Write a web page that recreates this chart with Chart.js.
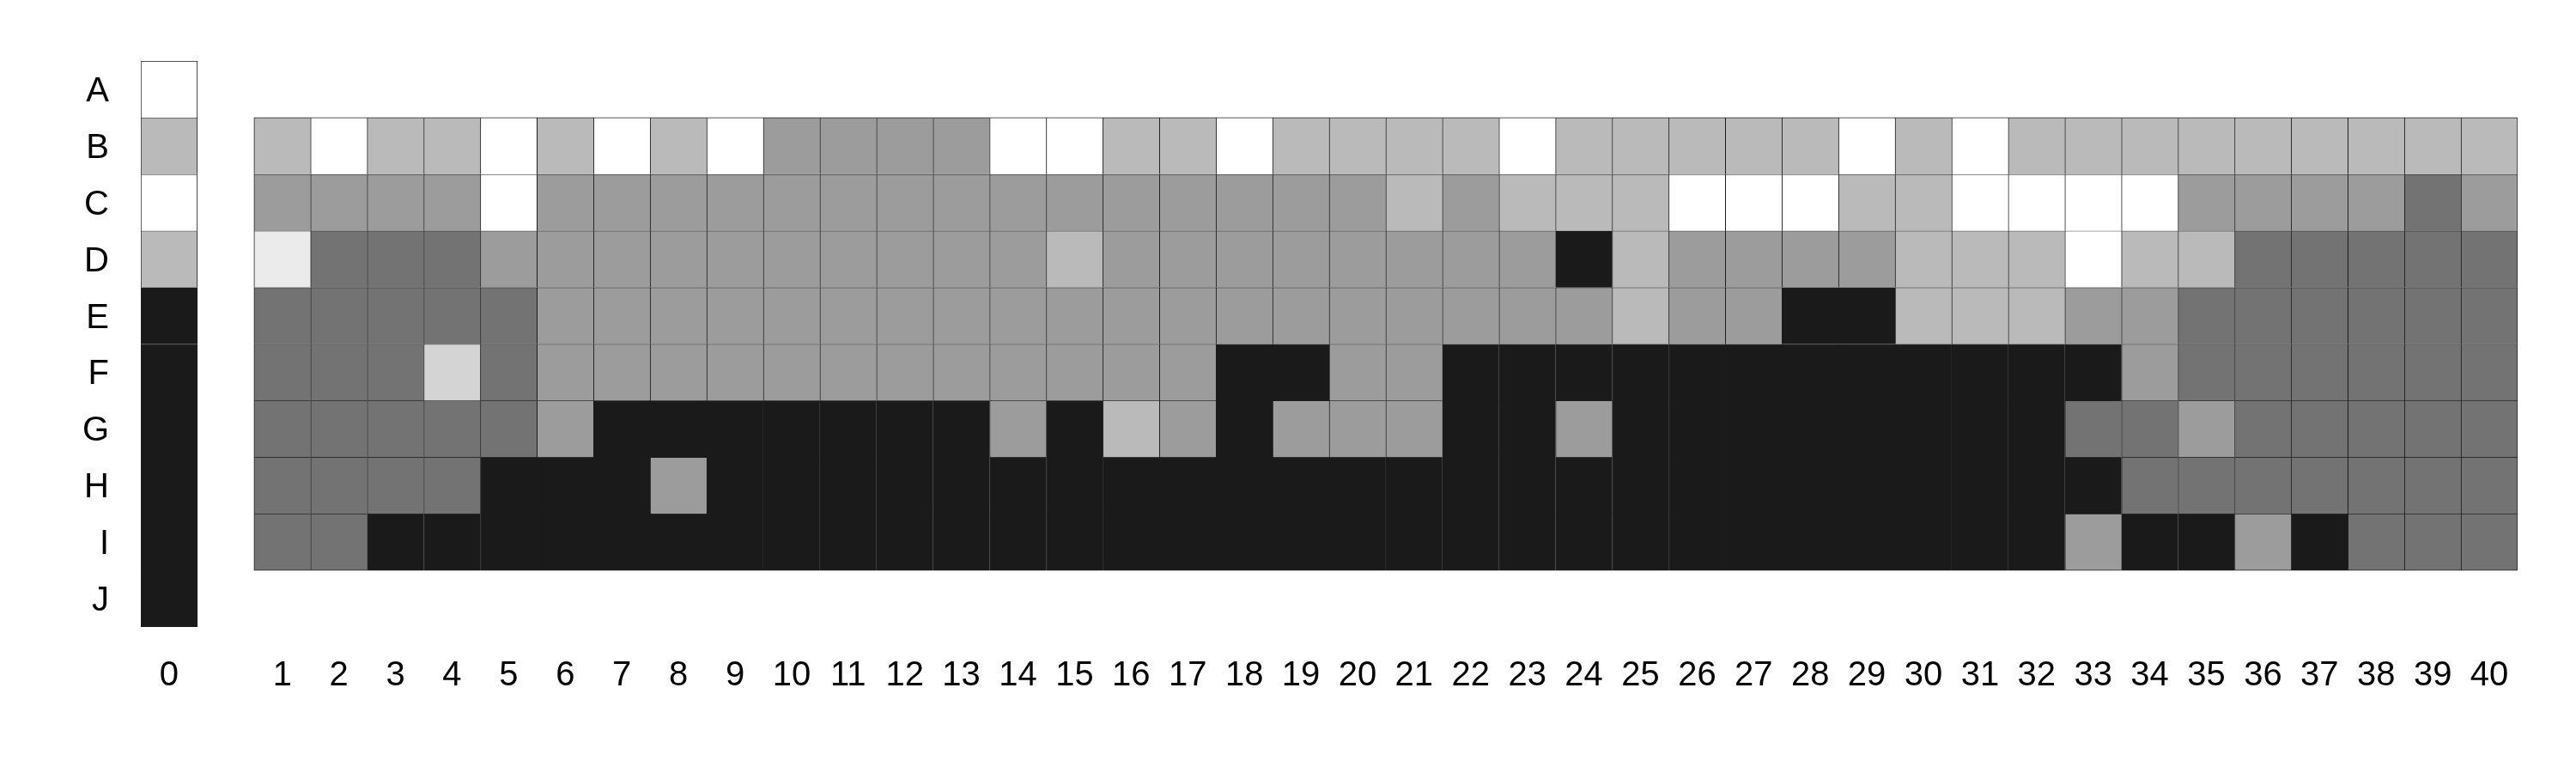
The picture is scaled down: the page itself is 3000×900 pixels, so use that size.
<!DOCTYPE html>
<html>
<head>
<meta charset="utf-8">
<script src="https://cdn.jsdelivr.net/npm/chart.js@4/dist/chart.umd.min.js"></script>
<style>
  html, body { margin: 0; padding: 0; background: #fff; }
  #wrap { width: 3000px; height: 900px; position: relative; }
</style>
</head>
<body>
<div id="wrap"><canvas id="grid"></canvas></div>
<script>
// tick labels
const rowLabels = ['A', 'B', 'C', 'D', 'E', 'F', 'G', 'H', 'I', 'J'];
const colLabels = ['0', '', '1', '2', '3', '4', '5', '6', '7', '8', '9', '10',
  '11', '12', '13', '14', '15', '16', '17', '18', '19', '20',
  '21', '22', '23', '24', '25', '26', '27', '28', '29', '30',
  '31', '32', '33', '34', '35', '36', '37', '38', '39', '40'];

// grey levels: 0 white ... 6 near black
const shades = ['#ffffff', '#ebebeb', '#d4d4d4', '#bababa', '#9c9c9c', '#737373', '#1a1a1a'];

// column 0, rows A..J
const col0 = [0, 3, 0, 3, 6, 6, 6, 6, 6, 6];

// columns 1..40, rows B..I
const rowB = [3,0,3,3,0,3,0,3,0,4, 4,4,4,0,0,3,3,0,3,3, 3,3,0,3,3,3,3,3,0,3, 0,3,3,3,3,3,3,3,3,3];
const rowC = [4,4,4,4,0,4,4,4,4,4, 4,4,4,4,4,4,4,4,4,4, 3,4,3,3,3,0,0,0,3,3, 0,0,0,0,4,4,4,4,5,4];
const rowD = [1,5,5,5,4,4,4,4,4,4, 4,4,4,4,3,4,4,4,4,4, 4,4,4,6,3,4,4,4,4,3, 3,3,0,3,3,5,5,5,5,5];
const rowE = [5,5,5,5,5,4,4,4,4,4, 4,4,4,4,4,4,4,4,4,4, 4,4,4,4,3,4,4,6,6,3, 3,3,4,4,5,5,5,5,5,5];
const rowF = [5,5,5,2,5,4,4,4,4,4, 4,4,4,4,4,4,4,6,6,4, 4,6,6,6,6,6,6,6,6,6, 6,6,6,4,5,5,5,5,5,5];
const rowG = [5,5,5,5,5,4,6,6,6,6, 6,6,6,4,6,3,4,6,4,4, 4,6,6,4,6,6,6,6,6,6, 6,6,5,5,4,5,5,5,5,5];
const rowH = [5,5,5,5,6,6,6,4,6,6, 6,6,6,6,6,6,6,6,6,6, 6,6,6,6,6,6,6,6,6,6, 6,6,6,5,5,5,5,5,5,5];
const rowI = [5,5,6,6,6,6,6,6,6,6, 6,6,6,6,6,6,6,6,6,6, 6,6,6,6,6,6,6,6,6,6, 6,6,4,6,6,4,6,5,5,5];

const mainRows = { B: rowB, C: rowC, D: rowD, E: rowE, F: rowF, G: rowG, H: rowH, I: rowI };

function buildDatasets() {
  return rowLabels.map((lab, r) => {
    const data = [];
    const colors = [];
    colLabels.forEach((c, i) => {
      let level = null;
      if (i === 0) level = col0[r];
      else if (i > 1 && mainRows[lab]) level = mainRows[lab][i - 2];
      data.push(level === null ? null : [r, r + 1]);
      colors.push(level === null ? 'rgba(0,0,0,0)' : shades[level]);
    });
    return {
      label: lab,
      data,
      backgroundColor: colors,
      borderColor: '#1c1c1c',
      borderSkipped: false,
      borderWidth: ctx => {
        const i = ctx.dataIndex;
        const lastRow = i === 0 ? r === 9 : r === 8;
        const lastCol = i === 0 || i === colLabels.length - 1;
        return { top: 1, left: 1, right: lastCol ? 1 : 0, bottom: lastRow ? 1 : 0 };
      }
    };
  });
}

const labelFont = { family: '"Liberation Sans", Arial, sans-serif', size: 40 };

new Chart(document.getElementById('grid'), {
  type: 'bar',
  data: { labels: colLabels, datasets: buildDatasets() },
  options: {
    responsive: true,
    maintainAspectRatio: false,
    animation: false,
    events: [],
    layout: { padding: { left: 0, top: 71, right: 68, bottom: 0 } },
    datasets: {
      bar: { grouped: false, barPercentage: 1, categoryPercentage: 1 }
    },
    plugins: {
      legend: { display: false },
      tooltip: { enabled: false }
    },
    scales: {
      x: {
        type: 'category',
        grid: { display: false, drawTicks: false },
        border: { display: false },
        ticks: {
          color: '#000',
          font: labelFont,
          padding: 33,
          autoSkip: false,
          maxRotation: 0
        },
        afterFit: scale => { scale.height = 170; }
      },
      y: {
        type: 'linear',
        min: 0,
        max: 10,
        reverse: true,
        grid: { display: false, drawTicks: false },
        border: { display: false },
        afterBuildTicks: scale => {
          scale.ticks = rowLabels.map((l, i) => ({ value: i + 0.5 }));
        },
        ticks: {
          color: '#000',
          font: labelFont,
          padding: 37,
          labelOffset: 3,
          autoSkip: false,
          callback: v => rowLabels[Math.floor(v)]
        },
        afterFit: scale => { scale.width = 164; }
      }
    }
  }
});
</script>
</body>
</html>
